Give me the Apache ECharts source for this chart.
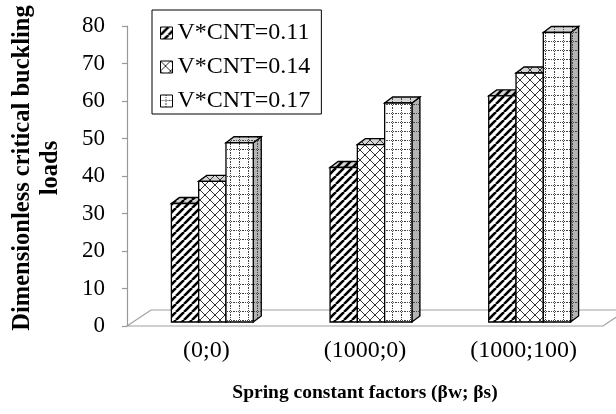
<!DOCTYPE html>
<html>
<head>
<meta charset="utf-8">
<script src="https://cdn.jsdelivr.net/npm/echarts@6/dist/echarts.min.js"></script>
<style>
  html, body { margin: 0; padding: 0; background: #fff; }
  #chart { width: 616px; height: 414px; }
</style>
</head>
<body>
<div id="chart"></div>
<script>
// Spring foundation cases on the x axis
const categories = ['(0;0)', '(1000;0)', '(1000;100)'];
// CNT volume fractions, one series each
const seriesNames = ['V*CNT=0.11', 'V*CNT=0.14', 'V*CNT=0.17'];
// Dimensionless critical buckling loads
const loads011 = [31.6, 41.2, 60.3];
const loads014 = [37.5, 47.3, 66.4];
const loads017 = [47.8, 58.4, 77.2];
const yTicks = { min: 0, max: 80, interval: 10 };

const FONT = '"Liberation Serif", "Times New Roman", serif';

// ---- fill patterns drawn on small canvases ----
function makeCanvas(size, draw) {
  const c = document.createElement('canvas');
  c.width = size; c.height = size;
  const ctx = c.getContext('2d');
  draw(ctx, size);
  return c;
}
function stripes(bg) {
  return makeCanvas(8, (ctx, s) => {
    ctx.fillStyle = bg; ctx.fillRect(0, 0, s, s);
    ctx.strokeStyle = '#000'; ctx.lineWidth = 2.6;
    [-s, 0, s].forEach((ox) => {
      ctx.beginPath(); ctx.moveTo(ox, s); ctx.lineTo(ox + s, 0); ctx.stroke();
    });
  });
}
function lattice(bg) {
  return makeCanvas(10, (ctx, s) => {
    ctx.fillStyle = bg; ctx.fillRect(0, 0, s, s);
    ctx.strokeStyle = '#333'; ctx.lineWidth = 1;
    ctx.beginPath(); ctx.moveTo(0, 0); ctx.lineTo(s, s); ctx.stroke();
    ctx.beginPath(); ctx.moveTo(0, s); ctx.lineTo(s, 0); ctx.stroke();
  });
}
function dottedGrid(bg) {
  return makeCanvas(9, (ctx, s) => {
    ctx.fillStyle = bg; ctx.fillRect(0, 0, s, s);
    ctx.fillStyle = '#444';
    for (let i = 0; i < s; i += 2) {
      ctx.fillRect(5, i, 1, 1);
      ctx.fillRect(i, 5, 1, 1);
    }
  });
}
const pat = (canvas) => ({ image: canvas, repeat: 'repeat' });
const fronts = [pat(stripes('#fff')), pat(lattice('#fff')), pat(dottedGrid('#fff'))];
const tops = [pat(stripes('#d4d4d4')), pat(lattice('#d4d4d4')), pat(dottedGrid('#d4d4d4'))];
const sides = [pat(stripes('#b4b4b4')), pat(lattice('#b4b4b4')), pat(dottedGrid('#b4b4b4'))];

const DX = 8, DY = -6;          // column depth offset
const SHIFT_X = 6, SHIFT_Y = -4; // columns sit slightly back on the floor

function columnRenderer(k) {
  return function (params, api) {
    const idx = api.value(0);
    const val = api.value(1);
    const base = api.coord([idx, 0]);
    const top = api.coord([idx, val]);
    const band = api.size([1, 0])[0];
    const w = band * 0.172;
    const x0 = base[0] - 1.5 * w + k * w + SHIFT_X;
    const yb = base[1] + SHIFT_Y;
    const yt = top[1] + SHIFT_Y;
    const stroke = { stroke: '#000', lineWidth: 1.3, lineJoin: 'miter' };
    return {
      type: 'group',
      children: [
        {
          type: 'polygon',
          shape: { points: [[x0 + w, yt], [x0 + w + DX, yt + DY], [x0 + w + DX, yb + DY], [x0 + w, yb]] },
          style: Object.assign({ fill: sides[k] }, stroke)
        },
        {
          type: 'polygon',
          shape: { points: [[x0, yt], [x0 + DX, yt + DY], [x0 + w + DX, yt + DY], [x0 + w, yt]] },
          style: Object.assign({ fill: tops[k] }, stroke)
        },
        {
          type: 'rect',
          shape: { x: x0, y: yt, width: w, height: yb - yt },
          style: Object.assign({ fill: fronts[k] }, stroke)
        }
      ]
    };
  };
}

function floorRenderer(params, api) {
  const band = api.size([1, 0])[0];
  const first = api.coord([0, 0]);
  const last = api.coord([categories.length - 1, 0]);
  const xl = first[0] - band / 2;
  const xr = last[0] + band / 2;
  const y = first[1];
  return {
    type: 'polygon',
    shape: { points: [[xl, y], [xl + 24, y - 16], [xr + 24, y - 16], [xr, y]] },
    style: { fill: 'none', stroke: '#a0a0a0', lineWidth: 1.2 }
  };
}

const allLoads = [loads011, loads014, loads017];
const series = [{
  name: 'floor',
  type: 'custom',
  renderItem: floorRenderer,
  encode: { x: 0, y: 1 },
  data: [[0, 0]],
  silent: true,
  z: 1
}];
allLoads.forEach((vals, k) => {
  series.push({
    name: seriesNames[k],
    type: 'custom',
    renderItem: columnRenderer(k),
    encode: { x: 0, y: 1 },
    itemStyle: { color: fronts[k] },
    data: vals.map((v, i) => [i, v]),
    z: 2 + k
  });
});

const chart = echarts.init(document.getElementById('chart'), null, { renderer: 'canvas' });
chart.setOption({
  animation: false,
  backgroundColor: '#fff',
  textStyle: { fontFamily: FONT, color: '#000' },
  grid: {
    left: 127, top: 26, width: 476, height: 300,
    containLabel: false, outerBoundsMode: 'none'
  },
  legend: {
    orient: 'vertical',
    left: 152, top: 10,
    padding: [10, 11, 0, 8],
    borderColor: '#000', borderWidth: 1,
    itemWidth: 12, itemHeight: 12, itemGap: 8, itemTextGap: 6,
    selectedMode: false,
    textStyle: { fontFamily: FONT, fontSize: 24, color: '#000', lineHeight: 26 },
    data: seriesNames.map((n, k) => ({
      name: n,
      icon: 'rect',
      itemStyle: { color: fronts[k], borderColor: '#000', borderWidth: 1 }
    }))
  },
  xAxis: {
    type: 'category',
    data: categories,
    axisLine: { show: false },
    axisTick: { show: false },
    axisLabel: { fontFamily: FONT, fontSize: 24, color: '#000', margin: 13 },
    name: 'Spring constant factors (βw; βs)',
    nameLocation: 'middle',
    nameGap: 57,
    nameTextStyle: { fontFamily: FONT, fontSize: 19.5, fontWeight: 'bold', color: '#000' }
  },
  yAxis: {
    type: 'value',
    min: yTicks.min, max: yTicks.max, interval: yTicks.interval,
    axisLine: { show: true, lineStyle: { color: '#999', width: 1.2 } },
    axisTick: { show: true, length: 5, lineStyle: { color: '#999', width: 1.2 } },
    splitLine: { show: false },
    axisLabel: { fontFamily: FONT, fontSize: 23, color: '#000', margin: 22 },
    name: 'Dimensionless critical buckling\nloads',
    nameLocation: 'middle',
    nameRotate: 90,
    nameGap: 62,
    nameTextStyle: {
      fontFamily: FONT, fontSize: 24.5, fontWeight: 'bold', color: '#000',
      lineHeight: 28, padding: [0, 0, 0, 16]
    }
  },
  series: series
});
</script>
</body>
</html>
